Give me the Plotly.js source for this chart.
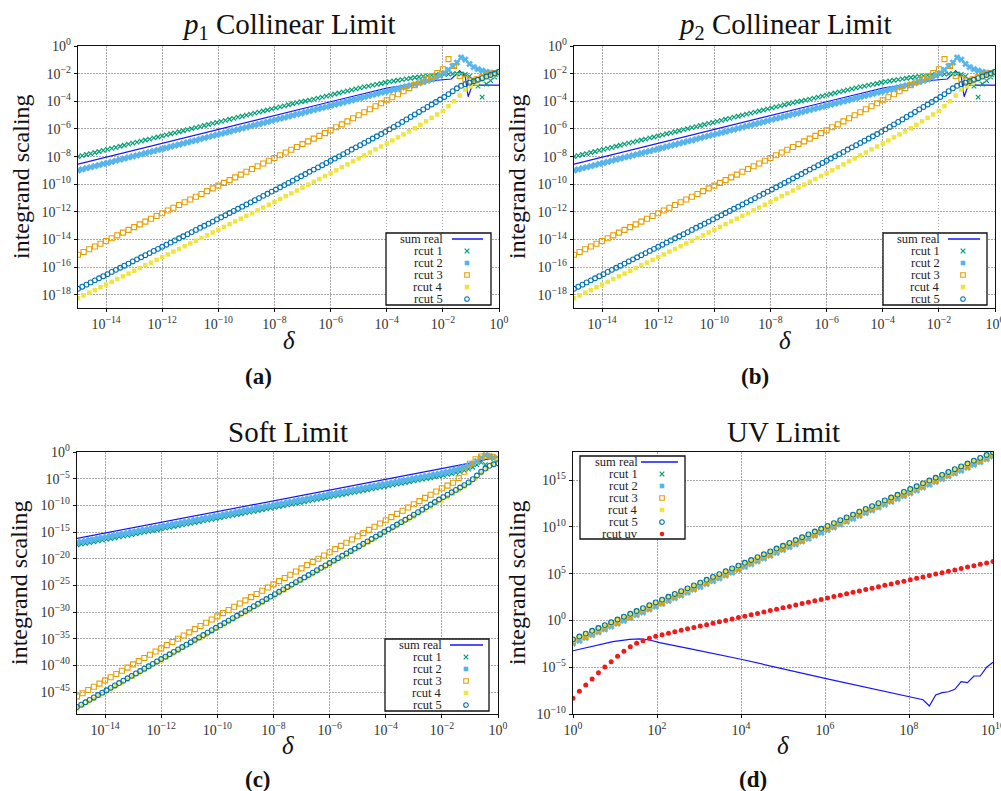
<!DOCTYPE html>
<html>
<head>
<meta charset="utf-8">
<script src="https://cdn.plot.ly/plotly-3.0.1.min.js"></script>
<style>
  html, body { margin: 0; padding: 0; background: #ffffff; }
  #fig { width: 1001px; height: 791px; }
</style>
</head>
<body>
<div id="fig"></div>
<script>
// ---- sampling grids (log10 of delta) ----
const deltaExpDense = [
  -15,-14.85,-14.7,-14.55,-14.4,-14.25,-14.1,-13.95,-13.8,-13.65,
  -13.5,-13.35,-13.2,-13.05,-12.9,-12.75,-12.6,-12.45,-12.3,-12.15,
  -12,-11.85,-11.7,-11.55,-11.4,-11.25,-11.1,-10.95,-10.8,-10.65,
  -10.5,-10.35,-10.2,-10.05,-9.9,-9.75,-9.6,-9.45,-9.3,-9.15,
  -9,-8.85,-8.7,-8.55,-8.4,-8.25,-8.1,-7.95,-7.8,-7.65,
  -7.5,-7.35,-7.2,-7.05,-6.9,-6.75,-6.6,-6.45,-6.3,-6.15,
  -6,-5.85,-5.7,-5.55,-5.4,-5.25,-5.1,-4.95,-4.8,-4.65,
  -4.5,-4.35,-4.2,-4.05,-3.9,-3.75,-3.6,-3.45,-3.3,-3.15,
  -3,-2.85,-2.7,-2.55,-2.4,-2.25,-2.1,-1.95,-1.8,-1.65,
  -1.5,-1.35,-1.2,-1.05,-0.9,-0.75,-0.6,-0.45,-0.3,-0.15,
  0
];
const deltaExpSparse = [
  -15,-14.8,-14.6,-14.4,-14.2,-14,-13.8,-13.6,-13.4,-13.2,
  -13,-12.8,-12.6,-12.4,-12.2,-12,-11.8,-11.6,-11.4,-11.2,
  -11,-10.8,-10.6,-10.4,-10.2,-10,-9.8,-9.6,-9.4,-9.2,
  -9,-8.8,-8.6,-8.4,-8.2,-8,-7.8,-7.6,-7.4,-7.2,
  -7,-6.8,-6.6,-6.4,-6.2,-6,-5.8,-5.6,-5.4,-5.2,
  -5,-4.8,-4.6,-4.4,-4.2,-4,-3.8,-3.6,-3.4,-3.2,
  -3,-2.8,-2.6,-2.4,-2.2,-2,-1.8,-1.6,-1.4,-1.2,
  -1,-0.8,-0.6,-0.4,-0.2,0
];
const deltaExpUV = [
  0,0.152,0.303,0.455,0.606,0.758,0.909,1.061,1.212,1.364,
  1.515,1.667,1.818,1.970,2.121,2.273,2.424,2.576,2.727,2.879,
  3.030,3.182,3.333,3.485,3.636,3.788,3.939,4.091,4.242,4.394,
  4.545,4.697,4.848,5.000,5.152,5.303,5.455,5.606,5.758,5.909,
  6.061,6.212,6.364,6.515,6.667,6.818,6.970,7.121,7.273,7.424,
  7.576,7.727,7.879,8.030,8.182,8.333,8.485,8.636,8.788,8.939,
  9.091,9.242,9.394,9.545,9.697,9.848,10.000
];

// ---- collinear limit (log10 of integrand scaling) ----
const collSumRealX = [-15,-10,-8,-6,-4,-3,-2.1,-1.7,-1.4,-1.2,-1.1,-0.95,-0.5,0];
const collSumRealY = [-8.55,-6.02,-5.02,-4.03,-3.05,-2.72,-2.46,-2.39,-1.79,-2.22,-3.67,-2.83,-2.83,-2.83];
const collRcut1 = [
  -8.00,-7.93,-7.85,-7.78,-7.70,-7.63,-7.55,-7.48,-7.40,-7.33,
  -7.25,-7.18,-7.10,-7.03,-6.95,-6.88,-6.80,-6.73,-6.65,-6.58,
  -6.50,-6.43,-6.35,-6.28,-6.20,-6.13,-6.05,-5.98,-5.90,-5.83,
  -5.75,-5.68,-5.60,-5.53,-5.45,-5.38,-5.30,-5.23,-5.15,-5.08,
  -5.00,-4.93,-4.85,-4.78,-4.70,-4.63,-4.55,-4.48,-4.40,-4.33,
  -4.25,-4.18,-4.10,-4.03,-3.98,-3.91,-3.84,-3.77,-3.70,-3.62,
  -3.55,-3.47,-3.40,-3.32,-3.25,-3.17,-3.10,-3.03,-2.96,-2.90,
  -2.83,-2.77,-2.71,-2.64,-2.58,-2.53,-2.48,-2.43,-2.38,-2.33,
  -2.28,-2.24,-2.20,-2.16,-2.13,-2.10,-2.07,-2.05,-2.03,-2.02,
  -2.01,-2.02,-2.06,-2.20,-2.45,-2.90,-3.70,-2.75,-2.50,-2.25,
  -2.08
];
const collRcut2 = [
  -9.00,-8.92,-8.84,-8.77,-8.69,-8.61,-8.53,-8.45,-8.38,-8.30,
  -8.22,-8.14,-8.06,-7.99,-7.91,-7.83,-7.75,-7.67,-7.60,-7.52,
  -7.44,-7.36,-7.28,-7.21,-7.13,-7.05,-6.97,-6.89,-6.82,-6.74,
  -6.66,-6.58,-6.50,-6.43,-6.35,-6.27,-6.19,-6.11,-6.04,-5.96,
  -5.88,-5.80,-5.72,-5.65,-5.57,-5.49,-5.41,-5.33,-5.26,-5.18,
  -5.10,-5.02,-4.94,-4.87,-4.79,-4.71,-4.63,-4.55,-4.48,-4.40,
  -4.32,-4.24,-4.16,-4.09,-4.01,-3.93,-3.85,-3.77,-3.70,-3.62,
  -3.54,-3.46,-3.38,-3.31,-3.24,-3.16,-3.08,-3.00,-2.92,-2.85,
  -2.77,-2.68,-2.60,-2.51,-2.42,-2.30,-2.15,-1.95,-1.72,-1.45,
  -1.20,-0.83,-0.98,-1.30,-1.52,-1.67,-1.78,-1.87,-1.93,-1.97,
  -2.00
];
const collRcut3 = [
  -15.10,-14.90,-14.70,-14.50,-14.30,-14.10,-13.90,-13.70,-13.50,-13.30,
  -13.10,-12.90,-12.70,-12.50,-12.30,-12.10,-11.90,-11.70,-11.50,-11.30,
  -11.10,-10.90,-10.70,-10.50,-10.30,-10.10,-9.90,-9.70,-9.50,-9.30,
  -9.10,-8.90,-8.70,-8.50,-8.30,-8.10,-7.90,-7.70,-7.50,-7.30,
  -7.10,-6.90,-6.70,-6.50,-6.30,-6.10,-5.88,-5.67,-5.45,-5.23,
  -5.01,-4.79,-4.58,-4.36,-4.14,-3.92,-3.71,-3.49,-3.27,-3.05,
  -2.83,-2.62,-2.40,-2.18,-1.96,-1.68,-0.95,-1.45,-2.17,-2.40,
  -2.55,-2.40,-2.25,-2.10,-1.98,-1.88
];
const collRcut4 = [
  -18.24,-18.04,-17.84,-17.65,-17.45,-17.25,-17.05,-16.85,-16.66,-16.46,
  -16.26,-16.06,-15.86,-15.67,-15.47,-15.27,-15.07,-14.87,-14.68,-14.48,
  -14.28,-14.08,-13.88,-13.69,-13.49,-13.29,-13.09,-12.89,-12.69,-12.49,
  -12.29,-12.09,-11.88,-11.68,-11.48,-11.28,-11.07,-10.86,-10.66,-10.45,
  -10.24,-10.03,-9.82,-9.62,-9.41,-9.20,-8.99,-8.77,-8.56,-8.34,
  -8.13,-7.91,-7.70,-7.48,-7.27,-7.05,-6.83,-6.61,-6.39,-6.17,
  -5.95,-5.70,-5.45,-5.20,-4.95,-4.70,-4.35,-4.00,-3.58,-3.15,
  -2.92,-2.70,-2.47,-2.25,-2.12,-2.00
];
const collRcut5 = [
  -17.56,-17.41,-17.26,-17.10,-16.95,-16.80,-16.65,-16.50,-16.34,-16.19,
  -16.04,-15.89,-15.74,-15.58,-15.43,-15.28,-15.13,-14.98,-14.82,-14.67,
  -14.52,-14.37,-14.22,-14.06,-13.91,-13.76,-13.61,-13.46,-13.30,-13.15,
  -13.00,-12.85,-12.70,-12.54,-12.39,-12.24,-12.08,-11.93,-11.77,-11.62,
  -11.46,-11.31,-11.15,-11.00,-10.84,-10.69,-10.53,-10.38,-10.22,-10.06,
  -9.90,-9.74,-9.58,-9.42,-9.26,-9.10,-8.94,-8.78,-8.62,-8.46,
  -8.30,-8.14,-7.98,-7.82,-7.66,-7.49,-7.33,-7.17,-7.01,-6.85,
  -6.69,-6.53,-6.37,-6.21,-6.03,-5.85,-5.67,-5.49,-5.31,-5.13,
  -4.95,-4.77,-4.59,-4.41,-4.23,-4.05,-3.87,-3.69,-3.48,-3.27,
  -3.06,-2.88,-2.76,-2.65,-2.55,-2.44,-2.33,-2.21,-2.10,-1.99,
  -1.88
];

// ---- soft limit ----
const softSumRealX = [-15,-10,-6,-4,-2,-1,-0.5,-0.2,0];
const softSumRealY = [-16.2,-11.2,-7.2,-5.2,-3.1,-2.1,-1.5,-1.1,-0.9];
const softRcut1 = [
  -17.42,-17.27,-17.12,-16.97,-16.82,-16.67,-16.52,-16.37,-16.22,-16.07,
  -15.92,-15.77,-15.62,-15.47,-15.32,-15.17,-15.02,-14.87,-14.72,-14.57,
  -14.42,-14.27,-14.12,-13.97,-13.82,-13.67,-13.52,-13.37,-13.22,-13.07,
  -12.92,-12.77,-12.62,-12.47,-12.32,-12.17,-12.02,-11.87,-11.72,-11.57,
  -11.42,-11.27,-11.12,-10.97,-10.82,-10.67,-10.52,-10.37,-10.22,-10.07,
  -9.92,-9.77,-9.62,-9.47,-9.32,-9.17,-9.02,-8.87,-8.72,-8.57,
  -8.42,-8.27,-8.12,-7.97,-7.82,-7.67,-7.52,-7.37,-7.22,-7.07,
  -6.92,-6.77,-6.62,-6.47,-6.32,-6.17,-6.02,-5.87,-5.72,-5.57,
  -5.42,-5.27,-5.12,-4.97,-4.82,-4.67,-4.52,-4.36,-4.20,-4.05,
  -3.88,-3.68,-3.45,-3.20,-2.85,-2.40,-1.93,-2.37,-1.10,-1.30,
  -1.55
];
const softRcut2 = [
  -16.97,-16.82,-16.67,-16.52,-16.37,-16.22,-16.07,-15.92,-15.77,-15.62,
  -15.47,-15.32,-15.17,-15.02,-14.87,-14.72,-14.57,-14.42,-14.27,-14.12,
  -13.97,-13.82,-13.67,-13.52,-13.37,-13.22,-13.07,-12.92,-12.77,-12.62,
  -12.47,-12.32,-12.17,-12.02,-11.87,-11.72,-11.57,-11.42,-11.27,-11.12,
  -10.97,-10.82,-10.67,-10.52,-10.37,-10.22,-10.07,-9.92,-9.77,-9.62,
  -9.47,-9.32,-9.17,-9.02,-8.87,-8.72,-8.57,-8.42,-8.27,-8.12,
  -7.97,-7.82,-7.67,-7.52,-7.37,-7.22,-7.07,-6.92,-6.77,-6.62,
  -6.47,-6.32,-6.17,-6.02,-5.87,-5.72,-5.57,-5.42,-5.27,-5.12,
  -4.97,-4.82,-4.67,-4.52,-4.37,-4.22,-4.07,-3.90,-3.72,-3.52,
  -3.32,-3.10,-2.85,-2.55,-2.20,-1.70,-1.10,-0.60,-0.75,-1.05,
  -1.35
];
const softRcut3 = [
  -45.80,-45.20,-44.60,-44.00,-43.40,-42.80,-42.20,-41.60,-41.00,-40.40,
  -39.80,-39.20,-38.60,-38.00,-37.40,-36.80,-36.20,-35.60,-35.00,-34.40,
  -33.80,-33.20,-32.60,-32.00,-31.40,-30.80,-30.20,-29.60,-29.00,-28.40,
  -27.80,-27.20,-26.60,-26.00,-25.40,-24.80,-24.20,-23.60,-23.00,-22.40,
  -21.80,-21.20,-20.60,-20.00,-19.40,-18.80,-18.20,-17.60,-17.00,-16.40,
  -15.80,-15.20,-14.60,-14.00,-13.40,-12.80,-12.20,-11.60,-11.00,-10.40,
  -9.80,-9.20,-8.60,-8.00,-7.40,-6.80,-6.30,-5.75,-4.90,-3.70,
  -2.20,-1.35,-0.85,-0.70,-0.90,-1.35
];
const softRcut4 = [
  -48.10,-47.50,-46.90,-46.30,-45.70,-45.10,-44.50,-43.90,-43.30,-42.70,
  -42.10,-41.50,-40.90,-40.30,-39.70,-39.10,-38.50,-37.90,-37.30,-36.70,
  -36.10,-35.50,-34.90,-34.30,-33.70,-33.10,-32.50,-31.90,-31.30,-30.70,
  -30.10,-29.50,-28.90,-28.30,-27.70,-27.10,-26.50,-25.90,-25.30,-24.70,
  -24.10,-23.50,-22.90,-22.30,-21.70,-21.10,-20.50,-19.90,-19.30,-18.70,
  -18.10,-17.50,-16.90,-16.30,-15.70,-15.10,-14.50,-13.90,-13.30,-12.70,
  -12.10,-11.50,-10.90,-10.30,-9.70,-9.10,-8.45,-7.80,-7.15,-6.50,
  -5.80,-4.95,-4.00,-3.10,-2.20,-1.60
];
const softRcut5 = [
  -47.80,-47.35,-46.90,-46.45,-46.00,-45.55,-45.10,-44.65,-44.20,-43.75,
  -43.30,-42.85,-42.40,-41.95,-41.50,-41.05,-40.60,-40.15,-39.70,-39.25,
  -38.80,-38.35,-37.90,-37.45,-37.00,-36.55,-36.10,-35.65,-35.20,-34.75,
  -34.30,-33.85,-33.40,-32.95,-32.50,-32.05,-31.60,-31.15,-30.70,-30.25,
  -29.80,-29.35,-28.90,-28.45,-28.00,-27.55,-27.10,-26.65,-26.20,-25.75,
  -25.30,-24.85,-24.40,-23.95,-23.50,-23.05,-22.60,-22.15,-21.70,-21.25,
  -20.80,-20.35,-19.90,-19.45,-19.00,-18.55,-18.10,-17.65,-17.20,-16.75,
  -16.30,-15.85,-15.40,-14.95,-14.50,-14.05,-13.60,-13.15,-12.70,-12.25,
  -11.75,-11.28,-10.80,-10.33,-9.85,-9.37,-8.90,-8.45,-8.00,-7.55,
  -7.10,-6.65,-6.20,-5.70,-5.10,-4.40,-3.70,-3.10,-2.60,-2.30,
  -2.10
];

// ---- UV limit ----
const uvSumRealX = [0,0.48,0.95,1.35,1.59,1.83,2.06,2.86,4,6,8,8.333,8.485,8.636,8.788,8.939,9.091,9.242,9.394,9.545,9.697,9.848,10];
const uvSumRealY = [-3.24,-2.73,-2.27,-2.02,-1.98,-2.09,-2.38,-3.09,-4.15,-6.19,-8.15,-8.48,-9.15,-7.97,-7.72,-7.62,-7.36,-6.55,-6.65,-5.94,-5.94,-5.0,-4.47];
const uvRcut1 = [
  -2.05,-1.75,-1.44,-1.14,-0.84,-0.53,-0.23,0.07,0.37,0.68,
  0.98,1.28,1.59,1.89,2.19,2.50,2.80,3.10,3.40,3.71,
  4.01,4.31,4.62,4.92,5.22,5.53,5.83,6.13,6.43,6.74,
  7.04,7.34,7.65,7.95,8.25,8.56,8.86,9.16,9.47,9.77,
  10.07,10.37,10.68,10.98,11.28,11.59,11.89,12.19,12.50,12.80,
  13.10,13.40,13.71,14.01,14.31,14.62,14.92,15.22,15.53,15.83,
  16.13,16.43,16.74,17.04,17.34,17.65,17.95
];
const uvRcut2 = [
  -2.47,-2.17,-1.86,-1.56,-1.26,-0.95,-0.65,-0.35,-0.05,0.26,
  0.56,0.86,1.17,1.47,1.77,2.08,2.38,2.68,2.98,3.29,
  3.59,3.89,4.20,4.50,4.80,5.11,5.41,5.71,6.01,6.32,
  6.62,6.92,7.23,7.53,7.83,8.14,8.44,8.74,9.05,9.35,
  9.65,9.95,10.26,10.56,10.86,11.17,11.47,11.77,12.08,12.38,
  12.68,12.98,13.29,13.59,13.89,14.20,14.50,14.80,15.11,15.41,
  15.71,16.01,16.32,16.62,16.92,17.23,17.53
];
const uvRcut3 = [
  -2.27,-1.97,-1.66,-1.36,-1.06,-0.75,-0.45,-0.15,0.15,0.46,
  0.76,1.06,1.37,1.67,1.97,2.28,2.58,2.88,3.18,3.49,
  3.79,4.09,4.40,4.70,5.00,5.31,5.61,5.91,6.21,6.52,
  6.82,7.12,7.43,7.73,8.03,8.34,8.64,8.94,9.25,9.55,
  9.85,10.15,10.46,10.76,11.06,11.37,11.67,11.97,12.28,12.58,
  12.88,13.18,13.49,13.79,14.09,14.40,14.70,15.00,15.31,15.61,
  15.91,16.21,16.52,16.82,17.12,17.43,17.73
];
const uvRcut4 = [
  -2.12,-1.82,-1.51,-1.21,-0.91,-0.60,-0.30,0.00,0.30,0.61,
  0.91,1.21,1.52,1.82,2.12,2.43,2.73,3.03,3.33,3.64,
  3.94,4.24,4.55,4.85,5.15,5.46,5.76,6.06,6.36,6.67,
  6.97,7.27,7.58,7.88,8.18,8.49,8.79,9.09,9.40,9.70,
  10.00,10.30,10.61,10.91,11.21,11.52,11.82,12.12,12.43,12.73,
  13.03,13.33,13.64,13.94,14.24,14.55,14.85,15.15,15.46,15.76,
  16.06,16.36,16.67,16.97,17.27,17.58,17.88
];
const uvRcut5 = [
  -2.02,-1.72,-1.41,-1.11,-0.81,-0.50,-0.20,0.10,0.40,0.71,
  1.01,1.31,1.62,1.92,2.22,2.53,2.83,3.13,3.43,3.74,
  4.04,4.34,4.65,4.95,5.25,5.56,5.86,6.16,6.46,6.77,
  7.07,7.37,7.68,7.98,8.28,8.59,8.89,9.19,9.50,9.80,
  10.10,10.40,10.71,11.01,11.31,11.62,11.92,12.22,12.53,12.83,
  13.13,13.43,13.74,14.04,14.34,14.65,14.95,15.25,15.56,15.86,
  16.16,16.46,16.77,17.07,17.37,17.68,17.98
];
const uvRcutUV = [
  -8.32,-7.57,-6.90,-6.26,-5.59,-4.98,-4.41,-3.83,-3.30,-2.81,
  -2.45,-2.17,-1.90,-1.68,-1.52,-1.36,-1.21,-1.06,-0.90,-0.75,
  -0.60,-0.45,-0.30,-0.15,0.00,0.15,0.30,0.45,0.60,0.75,
  0.90,1.05,1.20,1.35,1.50,1.65,1.80,1.95,2.10,2.25,
  2.40,2.55,2.70,2.85,3.00,3.15,3.30,3.45,3.60,3.75,
  3.90,4.05,4.20,4.35,4.50,4.65,4.80,4.95,5.10,5.25,
  5.40,5.55,5.70,5.85,6.00,6.15,6.30
];

// ---- labels and ticks ----
const seriesNames = ['sum real', 'rcut 1', 'rcut 2', 'rcut 3', 'rcut 4', 'rcut 5', 'rcut uv'];
const panelTitles = ['<i>p</i><sub>1</sub> Collinear Limit', '<i>p</i><sub>2</sub> Collinear Limit', 'Soft Limit', 'UV Limit'];
const panelTags = ['(a)', '(b)', '(c)', '(d)'];
const yLabel = 'integrand scaling';
const xLabel = '<i>δ</i>';
const xTickExpSmall = [-14, -12, -10, -8, -6, -4, -2, 0];
const yTickExpColl = [0, -2, -4, -6, -8, -10, -12, -14, -16, -18];
const yTickExpSoft = [0, -5, -10, -15, -20, -25, -30, -35, -40, -45];
const xTickExpUV = [0, 2, 4, 6, 8, 10];
const yTickExpUV = [-10, -5, 0, 5, 10, 15];

// ---- drawing ----
const W = 1001, H = 791;
const SERIF = '"Liberation Serif", "DejaVu Serif", serif';
const p10 = e => Math.pow(10, e);
const px = v => v / W;
const py = v => 1 - v / H;

const STYLE = {
  sum:   { color: '#1414ff', width: 1.2 },
  rcut1: { symbol: 'x-thin', size: 4.5, color: '#009E73', line: { color: '#009E73', width: 1.2 } },
  rcut2: { symbol: 'x', size: 5.5, color: '#56B4E9', line: { color: '#56B4E9', width: 0.5 } },
  rcut3: { symbol: 'square-open', size: 5, color: '#E69F00', line: { color: '#E69F00', width: 1.1 } },
  rcut4: { symbol: 'square', size: 4.5, color: '#F0E442', line: { width: 0 } },
  rcut5: { symbol: 'circle-open', size: 4.8, color: '#0072B2', line: { color: '#0072B2', width: 1.1 } },
  uv:    { symbol: 'circle', size: 5, color: '#EE1B1B', line: { width: 0 } }
};

function supLabel(e) {
  return '10<sup>' + (e < 0 ? '\u2212' + (-e) : String(e)) + '</sup>';
}

function logAxis(domain, range, tickExps, anchor) {
  return {
    domain: domain, type: 'log', range: range, anchor: anchor,
    tickmode: 'array', tickvals: tickExps.map(p10), ticktext: tickExps.map(supLabel),
    ticklabeloverflow: 'allow',
    showline: true, mirror: true, linecolor: '#111', linewidth: 1.3,
    ticks: 'outside', ticklen: 3, tickcolor: '#111', tickwidth: 1,
    showgrid: true, gridcolor: '#a8a8a8', griddash: '1.5px,1.5px', gridwidth: 1,
    zeroline: false, fixedrange: true,
    tickfont: { family: SERIF, size: 14, color: '#333' }
  };
}

function lineTrace(xe, ye, xa, ya) {
  return { type: 'scatter', mode: 'lines', x: xe.map(p10), y: ye.map(p10), xaxis: xa, yaxis: ya,
           line: { color: STYLE.sum.color, width: STYLE.sum.width }, hoverinfo: 'skip', showlegend: false };
}
function markTrace(xe, ye, st, xa, ya) {
  return { type: 'scatter', mode: 'markers', x: xe.map(p10), y: ye.map(p10), xaxis: xa, yaxis: ya,
           marker: { symbol: st.symbol, size: st.size, color: st.color, line: st.line },
           hoverinfo: 'skip', showlegend: false };
}

function limitPanel(xa, ya, d) {
  return [
    lineTrace(d.sumX, d.sumY, xa, ya),
    markTrace(deltaExpDense, d.r1, STYLE.rcut1, xa, ya),
    markTrace(deltaExpDense, d.r2, STYLE.rcut2, xa, ya),
    markTrace(deltaExpSparse, d.r3, STYLE.rcut3, xa, ya),
    markTrace(deltaExpSparse, d.r4, STYLE.rcut4, xa, ya),
    markTrace(deltaExpDense, d.r5, STYLE.rcut5, xa, ya)
  ];
}

const collData = { sumX: collSumRealX, sumY: collSumRealY, r1: collRcut1, r2: collRcut2, r3: collRcut3, r4: collRcut4, r5: collRcut5 };
const softData = { sumX: softSumRealX, sumY: softSumRealY, r1: softRcut1, r2: softRcut2, r3: softRcut3, r4: softRcut4, r5: softRcut5 };

const traces = [].concat(
  limitPanel('x', 'y', collData),
  limitPanel('x2', 'y2', collData),
  limitPanel('x3', 'y3', softData),
  [
    lineTrace(uvSumRealX, uvSumRealY, 'x4', 'y4'),
    markTrace(deltaExpUV, uvRcut1, STYLE.rcut1, 'x4', 'y4'),
    markTrace(deltaExpUV, uvRcut2, STYLE.rcut2, 'x4', 'y4'),
    markTrace(deltaExpUV, uvRcut3, STYLE.rcut3, 'x4', 'y4'),
    markTrace(deltaExpUV, uvRcut4, STYLE.rcut4, 'x4', 'y4'),
    markTrace(deltaExpUV, uvRcut5, STYLE.rcut5, 'x4', 'y4'),
    markTrace(deltaExpUV, uvRcutUV, STYLE.uv, 'x4', 'y4')
  ]
);

// panel frames in pixels: [left, right, top, bottom]
const frames = [
  [78, 499, 46, 308],
  [574, 995, 46, 308],
  [77, 498, 452, 714],
  [573, 993, 452, 714]
];
const dom = f => ({ x: [px(f[0]), px(f[1])], y: [py(f[3]), py(f[2])] });

const layout = {
  width: W, height: H,
  margin: { l: 0, r: 0, t: 0, b: 0 },
  paper_bgcolor: '#ffffff', plot_bgcolor: '#ffffff',
  showlegend: false,
  xaxis:  logAxis(dom(frames[0]).x, [-15, 0], xTickExpSmall, 'y'),
  yaxis:  logAxis(dom(frames[0]).y, [-18.95, 0], yTickExpColl, 'x'),
  xaxis2: logAxis(dom(frames[1]).x, [-15, 0], xTickExpSmall, 'y2'),
  yaxis2: logAxis(dom(frames[1]).y, [-18.95, 0], yTickExpColl, 'x2'),
  xaxis3: logAxis(dom(frames[2]).x, [-15, 0], xTickExpSmall, 'y3'),
  yaxis3: logAxis(dom(frames[2]).y, [-49.1, 0], yTickExpSoft, 'x3'),
  xaxis4: logAxis(dom(frames[3]).x, [0, 10], xTickExpUV, 'y4'),
  yaxis4: logAxis(dom(frames[3]).y, [-10, 18], yTickExpUV, 'x4'),
  annotations: [],
  shapes: []
};

// titles, axis labels, panel tags
const titleY = [26, 26, 432, 432];
const xLabelY = [340, 340, 745, 745];
const tagY = [376, 376, 779, 779];
const yLabelX = [21, 517, 19, 517];
frames.forEach((f, i) => {
  const cx = (f[0] + f[1]) / 2;
  const cy = (f[2] + f[3]) / 2;
  const base = { xref: 'paper', yref: 'paper', showarrow: false, xanchor: 'center', yanchor: 'middle' };
  layout.annotations.push(Object.assign({}, base, { x: px(cx), y: py(titleY[i]), text: panelTitles[i],
    font: { family: SERIF, size: 29, color: '#111' } }));
  layout.annotations.push(Object.assign({}, base, { x: px(cx), y: py(xLabelY[i]), text: xLabel,
    font: { family: SERIF, size: 25, color: '#111' } }));
  layout.annotations.push(Object.assign({}, base, { x: px(cx - 30), y: py(tagY[i]), text: '<b>' + panelTags[i] + '</b>',
    font: { family: SERIF, size: 23, color: '#111' } }));
  layout.annotations.push(Object.assign({}, base, { x: px(yLabelX[i]), y: py(cy), text: yLabel, textangle: -90,
    font: { family: SERIF, size: 24, color: '#111' } }));
});

// legend boxes drawn with shapes and text
function legendKey(style, kind, x, y) {
  const common = { xref: 'paper', yref: 'paper', xsizemode: 'pixel', ysizemode: 'pixel',
                   xanchor: px(x), yanchor: py(y), layer: 'above' };
  const r = 2.3;
  if (kind === 'x-thin') {
    return Object.assign(common, { type: 'path', path: `M${-r},${-r}L${r},${r}M${-r},${r}L${r},${-r}`,
      line: { color: style.color, width: 1.2 } });
  }
  const sh = { x0: -r, x1: r, y0: -r, y1: r };
  if (kind === 'square-open') return Object.assign(common, sh, { type: 'rect', line: { color: style.color, width: 1.1 }, fillcolor: 'rgba(0,0,0,0)' });
  if (kind === 'circle-open') return Object.assign(common, sh, { type: 'circle', line: { color: style.color, width: 1.1 }, fillcolor: 'rgba(0,0,0,0)' });
  if (kind === 'circle') return Object.assign(common, sh, { type: 'circle', line: { width: 0 }, fillcolor: style.color });
  return Object.assign(common, sh, { type: 'rect', line: { width: 0 }, fillcolor: style.color });
}

function addLegend(box, textRight, keyX, lineX, firstRow, keys) {
  layout.shapes.push({ type: 'rect', xref: 'paper', yref: 'paper', layer: 'above',
    x0: px(box[0]), x1: px(box[1]), y0: py(box[3]), y1: py(box[2]),
    line: { color: '#111', width: 1.3 }, fillcolor: '#ffffff' });
  keys.forEach((k, i) => {
    const y = firstRow + 12 * i;
    layout.annotations.push({ xref: 'paper', yref: 'paper', showarrow: false, xanchor: 'right', yanchor: 'middle',
      x: px(textRight), y: py(y), text: seriesNames[k.idx], borderpad: 0,
      font: { family: SERIF, size: 12.5, color: '#222' } });
    if (k.kind === 'line') {
      layout.shapes.push({ type: 'line', xref: 'paper', yref: 'paper', layer: 'above',
        x0: px(lineX[0]), x1: px(lineX[1]), y0: py(y), y1: py(y), line: { color: STYLE.sum.color, width: 1.5 } });
    } else {
      layout.shapes.push(legendKey(k.style, k.kind, keyX, y));
    }
  });
}

const limitKeys = [
  { idx: 0, kind: 'line' },
  { idx: 1, kind: 'x-thin', style: STYLE.rcut1 },
  { idx: 2, kind: 'square', style: STYLE.rcut2 },
  { idx: 3, kind: 'square-open', style: STYLE.rcut3 },
  { idx: 4, kind: 'square', style: STYLE.rcut4 },
  { idx: 5, kind: 'circle-open', style: STYLE.rcut5 }
];
addLegend([386, 491, 233, 305], 444, 467, [452, 483], 239, limitKeys);
addLegend([883, 987, 233, 305], 941, 963, [948, 980], 239, limitKeys);
addLegend([385, 489, 639, 711], 443, 466, [450, 483], 645, limitKeys);
addLegend([580, 685, 456, 539], 639, 662, [641, 678], 462,
  limitKeys.concat([{ idx: 6, kind: 'circle', style: STYLE.uv }]));

Plotly.newPlot('fig', traces, layout, { staticPlot: true });
</script>
</body>
</html>
